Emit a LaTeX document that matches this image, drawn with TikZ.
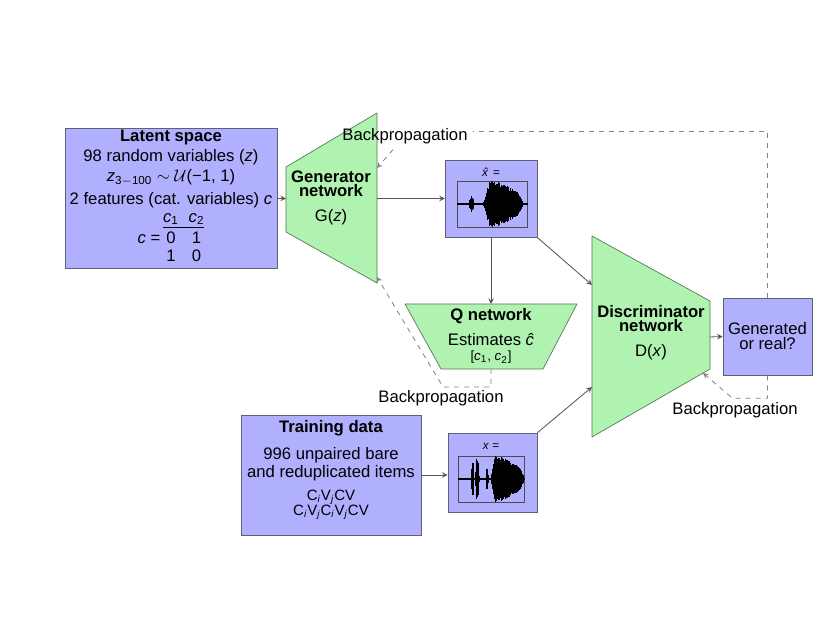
\documentclass[tikz,border=0pt]{standalone}
\usepackage{fontspec}
\setmainfont{Liberation Sans}
\usepackage{tikz}
\usetikzlibrary{shapes.geometric, arrows, positioning}
\definecolor{boxblue}{RGB}{176,176,255}
\definecolor{boxline}{RGB}{95,95,120}
\definecolor{netgreen}{RGB}{176,242,176}
\definecolor{netline}{RGB}{85,115,85}
\definecolor{linegray}{RGB}{85,85,85}
\definecolor{dashgray}{RGB}{130,130,130}
\tikzstyle{databox} = [rectangle, draw=boxline, fill=boxblue, text centered, inner sep=1pt]
\tikzstyle{netshape} = [draw=netline, fill=netgreen, line join=round]
\tikzstyle{arrow} = [line width=0.5pt, draw=linegray, ->, >=stealth]
\tikzstyle{backarrow} = [line width=0.5pt, draw=dashgray, dashed, ->, >=stealth]
\tikzstyle{wave} = [line width=0.45pt, black]
\tikzstyle{axes} = [line width=0.3pt, black!70]

\begin{document}
\begin{tikzpicture}[x=0.6pt, y=-0.6pt, font=\fontsize{10}{12}\selectfont]
    \useasboundingbox (0,0) rectangle (830,642);

    % network shapes
    \draw [netshape] (286,167) -- (377,113) -- (377,283) -- (286,232) -- cycle;
    \draw [netshape] (405,304) -- (577,304) -- (543,369) -- (441,369) -- cycle;
    \draw [netshape] (592,236) -- (710,301) -- (710,369) -- (592,437) -- cycle;
    \coordinate (GenIn) at (286,198.5);
    \coordinate (GenOut) at (377,198.5);
    \coordinate (GenBackTop) at (377,168);
    \coordinate (GenBackBottom) at (377,277);
    \coordinate (QIn) at (491,304);
    \coordinate (QOut) at (491,369);
    \coordinate (DiscInTop) at (592,285);
    \coordinate (DiscInBottom) at (592,387);
    \coordinate (DiscOut) at (710,337);
    \coordinate (DiscBack) at (703,373);

    \node (Generator) at (331,198) [align=center] {\textbf{Generator}\\[-3.5pt]\textbf{network}\\[3pt]G(\textit{z})};
    \node (QNet) at (491,336) [align=center] {\textbf{Q network}\\[3pt]Estimates \textit{ĉ}\\[-3pt]{\footnotesize [\textit{c}\textsubscript{1}, \textit{c}\textsubscript{2}]}};
    \node (Discriminator) at (651,333) [align=center] {\textbf{Discriminator}\\[-3.5pt]\textbf{network}\\[3pt]D(\textit{x})};

    % data boxes
    \node (Latent) at (171,198.5) [databox, minimum width=127pt, minimum height=83.4pt, align=center] {\textbf{Latent space}\\98 random variables (\textit{z})\\\textit{z}\textsubscript{3$-$100} $\sim\mathcal{U}$(−1, 1)\\[1.5pt]2 features (cat. variables) \textit{c}\\
        \renewcommand{\arraystretch}{0.9}\setlength{\tabcolsep}{3pt}%
        \begin{tabular}{@{}r@{\,}cc@{}}
            & \textit{c}\textsubscript{1} & \textit{c}\textsubscript{2}\\ \cline{2-3}
            \textit{c} = & 0\rule{0pt}{9.5pt} & 1\\
            & 1 & 0
        \end{tabular}};
    \node (Xhat) at (491,198.5) [databox, minimum width=55pt, minimum height=46.2pt] {};
    \node (XhatLabel) at (491,172) {\scriptsize \textit{\^x} =};
    \node (X) at (492.5,472.5) [databox, minimum width=53.5pt, minimum height=47.4pt] {};
    \node (XLabel) at (491,446) {\scriptsize \textit{x} =};
    \node (Training) at (331,475) [databox, minimum width=108pt, minimum height=72pt] {};
    \node (TrainingText) at (331,415) [anchor=north, align=center] {\textbf{Training data}\\[4pt]996 unpaired bare\\[-1.5pt]and reduplicated items\\[2pt]{\small C\textsubscript{\textit{i}}V\textsubscript{\textit{j}}CV}\\[-3pt]{\small C\textsubscript{\textit{i}}V\textsubscript{\textit{j}}C\textsubscript{\textit{i}}V\textsubscript{\textit{j}}CV}};
    \node (Result) at (767.5,336.5) [databox, minimum width=53.4pt, minimum height=46.2pt, align=center] {Generated\\[-3pt]or real?};

    % sound plots
    \draw [axes] (457,181) rectangle (527,227);
    \draw [axes] (457,204) -- (527,204);
    \pgfmathsetseed{11}
    \foreach \i in {0,...,180} {
        \pgfmathsetmacro\pos{\i/180}
        \pgfmathsetmacro\da{(\pos-0.21)/0.035}
        \pgfmathsetmacro\amp{(0.35*max(0,1-\da*\da) + max(0,min((\pos-0.38)*12,1,1-1.5*(\pos-0.55),(0.95-\pos)*6)))*(0.7+0.3*rnd)+0.03}
        \draw [wave] (457+70*\pos,204-23*\amp) -- (457+70*\pos,204+23*\amp);
    }
    \draw [axes] (458,456) rectangle (524,502);
    \draw [axes] (458,479) -- (524,479);
    \pgfmathsetseed{5}
    \foreach \i in {0,...,180} {
        \pgfmathsetmacro\pos{\i/180}
        \pgfmathsetmacro\da{(\pos-0.22)/0.022}
        \pgfmathsetmacro\db{(\pos-0.29)/0.028}
        \pgfmathsetmacro\dc{(\pos-0.44)/0.02}
        \pgfmathsetmacro\amp{(0.9*max(0,1-\da*\da) + max(0,1-\db*\db) + 0.5*max(0,1-\dc*\dc) + max(0,min((\pos-0.5)*20,1,1-1.8*(\pos-0.66),(1-\pos)*9)))*(0.75+0.25*rnd)+0.03}
        \draw [wave] (458+66*\pos,479-22*\amp) -- (458+66*\pos,479+22*\amp);
    }

    % labels
    \node (BackpropG) at (405,136) {Backpropagation};
    \node (BackpropQ) at (441,398) {Backpropagation};
    \node (BackpropD) at (735,410) {Backpropagation};

    % forward connections
    \draw [arrow] (Latent.east) -- (GenIn);
    \draw [arrow] (GenOut) -- (Xhat.west);
    \draw [arrow] (Xhat.south) -- (QIn);
    \draw [arrow] (Xhat.south east) -- (DiscInTop);
    \draw [arrow] (Training.east) -- (X.west |- Training.east);
    \draw [arrow] (X.north east) -- (DiscInBottom);
    \draw [arrow] (DiscOut) -- (Result.west);

    % backpropagation
    \draw [backarrow, -] (Result.north) |- ([yshift=3pt]BackpropG.east);
    \draw [backarrow] (BackpropG) -- (GenBackTop);
    \draw [backarrow] (QOut) -- ++(0,18) -- ++(-48,0) -- (GenBackBottom);
    \draw [backarrow] (Result.south) -- ++(0,23) -- ++(-35,0) -- (DiscBack);
\end{tikzpicture}
\end{document}
